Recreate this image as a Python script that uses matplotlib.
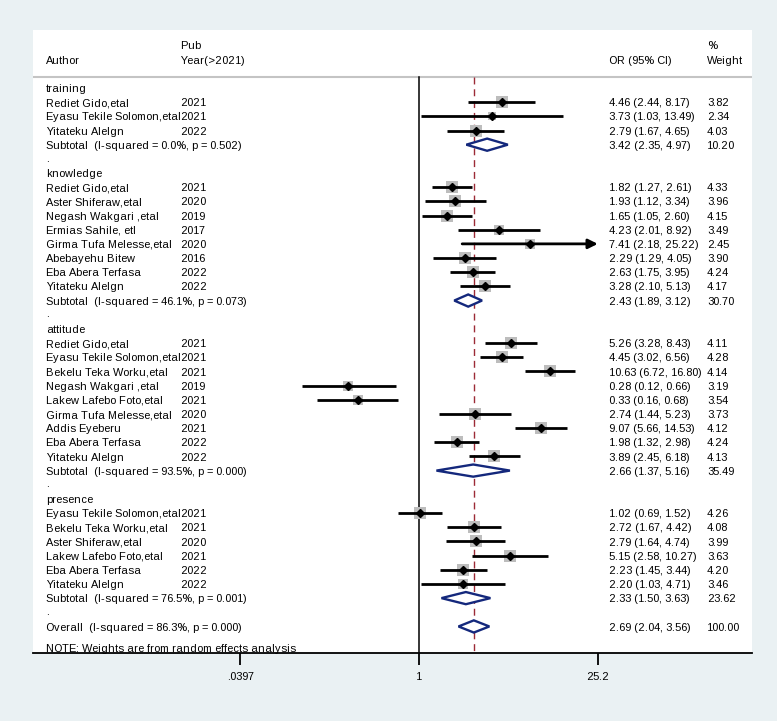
import matplotlib as mpl
import matplotlib.pyplot as plt
import matplotlib.transforms as mtransforms
import numpy as np

mpl.rcParams.update({
    "font.family": ["Liberation Sans", "DejaVu Sans"],
    "font.size": 8.1,
    "text.hinting_factor": 1,
})

groups = ["training", "knowledge", "attitude", "presence"]

study_group = [0, 0, 0,
               1, 1, 1, 1, 1, 1, 1, 1,
               2, 2, 2, 2, 2, 2, 2, 2, 2,
               3, 3, 3, 3, 3, 3]
study_author = [
    "Rediet Gido,etal", "Eyasu Tekile Solomon,etal", "Yitateku Alelgn",
    "Rediet Gido,etal", "Aster Shiferaw,etal", "Negash Wakgari ,etal",
    "Ermias Sahile, etl", "Girma Tufa Melesse,etal", "Abebayehu Bitew",
    "Eba Abera Terfasa", "Yitateku Alelgn",
    "Rediet Gido,etal", "Eyasu Tekile Solomon,etal", "Bekelu Teka Worku,etal",
    "Negash Wakgari ,etal", "Lakew Lafebo Foto,etal", "Girma Tufa Melesse,etal",
    "Addis Eyeberu", "Eba Abera Terfasa", "Yitateku Alelgn",
    "Eyasu Tekile Solomon,etal", "Bekelu Teka Worku,etal", "Aster Shiferaw,etal",
    "Lakew Lafebo Foto,etal", "Eba Abera Terfasa", "Yitateku Alelgn",
]
study_year = [2021, 2021, 2022,
              2021, 2020, 2019, 2017, 2020, 2016, 2022, 2022,
              2021, 2021, 2021, 2019, 2021, 2020, 2021, 2022, 2022,
              2021, 2021, 2020, 2021, 2022, 2022]
study_or = [4.46, 3.73, 2.79,
            1.82, 1.93, 1.65, 4.23, 7.41, 2.29, 2.63, 3.28,
            5.26, 4.45, 10.63, 0.28, 0.33, 2.74, 9.07, 1.98, 3.89,
            1.02, 2.72, 2.79, 5.15, 2.23, 2.20]
study_lo = [2.44, 1.03, 1.67,
            1.27, 1.12, 1.05, 2.01, 2.18, 1.29, 1.75, 2.10,
            3.28, 3.02, 6.72, 0.12, 0.16, 1.44, 5.66, 1.32, 2.45,
            0.69, 1.67, 1.64, 2.58, 1.45, 1.03]
study_hi = [8.17, 13.49, 4.65,
            2.61, 3.34, 2.60, 8.92, 25.22, 4.05, 3.95, 5.13,
            8.43, 6.56, 16.80, 0.66, 0.68, 5.23, 14.53, 2.98, 6.18,
            1.52, 4.42, 4.74, 10.27, 3.44, 4.71]
study_wt = [3.82, 2.34, 4.03,
            4.33, 3.96, 4.15, 3.49, 2.45, 3.90, 4.24, 4.17,
            4.11, 4.28, 4.14, 3.19, 3.54, 3.73, 4.12, 4.24, 4.13,
            4.26, 4.08, 3.99, 3.63, 4.20, 3.46]

sub_i2 = [0.0, 46.1, 93.5, 76.5]
sub_p = [0.502, 0.073, 0.000, 0.001]
sub_or = [3.42, 2.43, 2.66, 2.33]
sub_lo = [2.35, 1.89, 1.37, 1.50]
sub_hi = [4.97, 3.12, 5.16, 3.63]
sub_wt = [10.20, 30.70, 35.49, 23.62]

overall_i2 = 86.3
overall_p = 0.000
overall_or = 2.69
overall_lo = 2.04
overall_hi = 3.56

tick_vals = [0.0397, 1, 25.2]
tick_labels = [".0397", "1", "25.2"]

W, H = 777, 721
fig = plt.figure(figsize=(W / 100, H / 100), dpi=100, facecolor="#eaf1f3")

# panel in pixels: left 33, right 752, top 30, bottom 653
ax = fig.add_axes([33 / W, (H - 653) / H, (752 - 33) / W, (653 - 30) / H])
ax.set_facecolor("white")

row0_px, row_px = 88, 14.17
ax.set_ylim((653 - row0_px) / row_px, (30 - row0_px) / row_px)
px_per_ln = 55.4
ax.set_xscale("log")
ax.set_xlim(np.exp((33 - 419) / px_per_ln), np.exp((752 - 419) / px_per_ln))

xmin_clip, xmax_clip = tick_vals[0], tick_vals[-1]
col = mtransforms.blended_transform_factory(fig.transFigure, ax.transData)
x_author, x_year, x_or, x_wt = 46 / W, 180 / W, 609 / W, 707 / W
base = 4.1 / row_px  # baseline sits about 4 px below the row centre


def put(x, y, s):
    ax.text(x, y + base, s, transform=col, va="baseline", ha="left")


box_c = "#bdbdbd"
navy = "#14287c"


def fmt_ci(o, l, h):
    return f"{o:.2f} ({l:.2f}, {h:.2f})"


def draw_diamond(y, o, l, h):
    hh = 0.43
    ax.fill([l, o, h, o, l], [y, y - hh, y, y + hh, y], facecolor="white",
            edgecolor=navy, lw=1.7, zorder=4)


row = 0
for g, gname in enumerate(groups):
    put(x_author, row, gname)
    row += 1
    for i in [k for k, sg in enumerate(study_group) if sg == g]:
        o, l, h, w = study_or[i], study_lo[i], study_hi[i], study_wt[i]
        side = 5.8 * np.sqrt(w) / 1.389
        ax.scatter([o], [row], s=side ** 2, marker="s", color=box_c,
                   linewidths=0, zorder=2)
        lc, hc = max(l, xmin_clip), min(h, xmax_clip)
        if h > xmax_clip:
            ax.annotate("", xy=(hc, row), xytext=(lc, row),
                        arrowprops=dict(arrowstyle="-|>", lw=2.0, color="black",
                                        mutation_scale=14, shrinkA=0, shrinkB=0),
                        zorder=3)
        else:
            ax.plot([lc, hc], [row, row], color="black", lw=2.0,
                    solid_capstyle="butt", zorder=3)
        ax.plot([o], [row], marker="D", ms=4.5, color="black", zorder=5)
        put(x_author, row, study_author[i])
        put(x_year, row, str(study_year[i]))
        put(x_or, row, fmt_ci(o, l, h))
        put(x_wt, row, f"{w:.2f}")
        row += 1
    draw_diamond(row, sub_or[g], sub_lo[g], sub_hi[g])
    put(x_author, row,
        f"Subtotal  (I-squared = {sub_i2[g]:.1f}%, p = {sub_p[g]:.3f})")
    put(x_or, row, fmt_ci(sub_or[g], sub_lo[g], sub_hi[g]))
    put(x_wt, row, f"{sub_wt[g]:.2f}")
    row += 1
    put(x_author, row - 0.1, ".")
    row += 1

draw_diamond(row, overall_or, overall_lo, overall_hi)
put(x_author, row,
    f"Overall  (I-squared = {overall_i2:.1f}%, p = {overall_p:.3f})")
put(x_or, row, fmt_ci(overall_or, overall_lo, overall_hi))
put(x_wt, row, "100.00")
put(x_author, row + 1.5, "NOTE: Weights are from random effects analysis")

# header
hdr_line = (77 - row0_px) / row_px
ax.axhline(hdr_line, color="#c4c4c4", lw=1.5, zorder=1)
put(x_author, -1.98, "Author")
put(x_year, -3.03, "Pub")
put(x_year, -1.98, "Year(>2021)")
put(x_or, -1.98, "OR (95% CI)")
put(x_wt, -3.03, "%")
put(x_wt, -1.98, "Weight")

ybot = ax.get_ylim()[0]
ax.plot([1, 1], [hdr_line, ybot], color="black", lw=1.1, zorder=1)
ax.plot([overall_or, overall_or], [hdr_line, ybot], color="#9c2a36", lw=1.0,
        dashes=(5, 3.5), zorder=1)

for s in ["top", "right", "left"]:
    ax.spines[s].set_visible(False)
ax.spines["bottom"].set_linewidth(1.3)
ax.set_yticks([])
ax.set_xticks(tick_vals)
ax.set_xticklabels(tick_labels)
ax.xaxis.set_minor_locator(mpl.ticker.NullLocator())
ax.tick_params(axis="x", direction="out", length=8.5, width=1.3, pad=5,
               labelsize=8.1)

fig.savefig("out.png", dpi=100, facecolor=fig.get_facecolor())
